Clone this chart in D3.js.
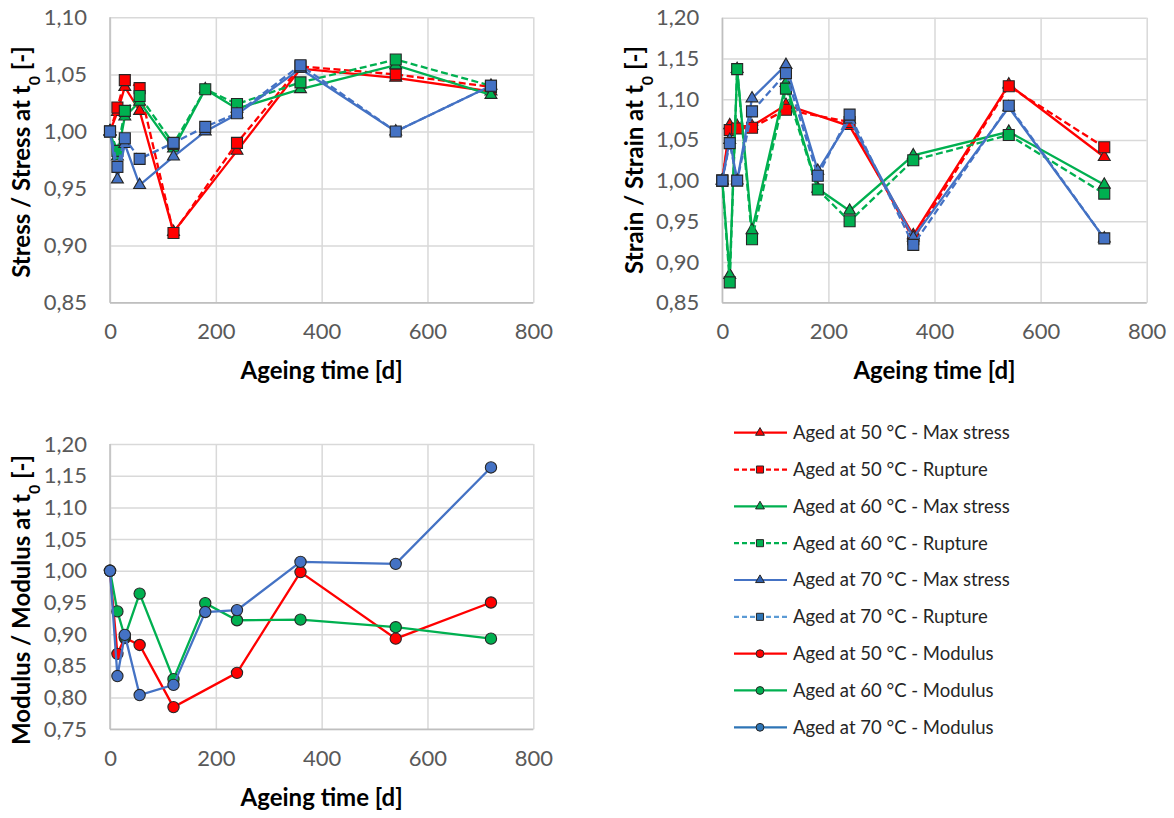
<!DOCTYPE html>
<html>
<head>
<meta charset="utf-8">
<script src="https://cdn.jsdelivr.net/npm/d3@7"></script>
<style>
  body { margin: 0; background: #fff; }
  svg { display: block; font-family: Lato, "Open Sans", sans-serif; }
</style>
</head>
<body>
<svg id="chart" width="1174" height="818"></svg>
<script>
// Ageing time points [d]
var days = [0, 14, 28, 56, 120, 180, 240, 360, 540, 720];
var xTicks = [0, 200, 400, 600, 800];

// Stress / stress at t0 (null = not measured)
var stress50Max = [1.000, 1.017, 1.039, 1.018, 0.912, null, 0.983, 1.055, 1.047, 1.035];
var stress50Rup = [1.000, 1.021, 1.045, 1.038, 0.911, null, 0.990, 1.057, 1.050, 1.039];
var stress60Max = [1.000, 0.978, 1.013, 1.026, 0.985, 1.037, 1.020, 1.037, 1.058, 1.032];
var stress60Rup = [1.000, 0.983, 1.018, 1.031, 0.989, 1.037, 1.024, 1.043, 1.063, 1.040];
var stress70Max = [1.000, 0.958, 0.989, 0.953, 0.978, 1.000, 1.015, 1.055, 1.000, 1.040];
var stress70Rup = [1.000, 0.969, 0.994, 0.976, 0.990, 1.004, 1.016, 1.058, 1.000, 1.040];
var stressTicks = [0.85, 0.90, 0.95, 1.00, 1.05, 1.10];

// Strain / strain at t0
var strain50Max = [1.000, 1.068, 1.067, 1.067, 1.093, null, 1.067, 0.933, 1.118, 1.029];
var strain50Rup = [1.000, 1.062, 1.064, 1.065, 1.087, null, 1.072, 0.928, 1.116, 1.041];
var strain60Max = [1.000, 0.884, 1.137, 0.939, 1.120, 0.990, 0.963, 1.031, 1.060, 0.995];
var strain60Rup = [1.000, 0.875, 1.137, 0.928, 1.113, 0.989, 0.950, 1.025, 1.056, 0.984];
var strain70Max = [1.000, 1.050, 1.000, 1.101, 1.142, 1.012, 1.075, 0.930, 1.090, 0.929];
var strain70Rup = [1.000, 1.046, 1.000, 1.085, 1.132, 1.006, 1.081, 0.921, 1.092, 0.929];
var strainTicks = [0.85, 0.90, 0.95, 1.00, 1.05, 1.10, 1.15, 1.20];

// Modulus / modulus at t0
var modulus50 = [1.000, 0.869, 0.894, 0.883, 0.785, null, 0.839, 0.998, 0.893, 0.950];
var modulus60 = [1.000, 0.936, 0.896, 0.964, 0.829, 0.949, 0.922, 0.923, 0.911, 0.893];
var modulus70 = [1.000, 0.834, 0.899, 0.804, 0.820, 0.935, 0.938, 1.014, 1.011, 1.163];
var modulusTicks = [0.75, 0.80, 0.85, 0.90, 0.95, 1.00, 1.05, 1.10, 1.15, 1.20];

var legendLabels = [
  "Aged at 50 °C - Max stress", "Aged at 50 °C - Rupture",
  "Aged at 60 °C - Max stress", "Aged at 60 °C - Rupture",
  "Aged at 70 °C - Max stress", "Aged at 70 °C - Rupture",
  "Aged at 50 °C - Modulus", "Aged at 60 °C - Modulus", "Aged at 70 °C - Modulus"
];

var red = "#ff0000", green = "#00b050", blue = "#4472c4";
var svg = d3.select("#chart");
var fmt = function(v) { return d3.format(".2f")(v).replace(".", ","); };

function drawPanel(p) {
  var x = d3.scaleLinear().domain([0, 800]).range([p.left, p.right]);
  var y = d3.scaleLinear().domain([p.ticks[0], p.ticks[p.ticks.length - 1]]).range([p.bottom, p.top]);
  var w = p.right - p.left, h = p.bottom - p.top;
  var g = svg.append("g");

  // gridlines + tick labels through the axes
  var ya = g.append("g")
      .attr("transform", "translate(" + p.left + ",0)")
      .call(d3.axisLeft(y).tickValues(p.ticks).tickSize(-w).tickPadding(23).tickFormat(fmt));
  var xa = g.append("g")
      .attr("transform", "translate(0," + p.bottom + ")")
      .call(d3.axisBottom(x).tickValues(xTicks).tickSize(-h).tickPadding(21).tickFormat(d3.format("d")));
  [ya, xa].forEach(function(a) {
    a.select(".domain").remove();
    a.selectAll("line").attr("stroke", "#d9d9d9").attr("stroke-width", 1.5);
    a.selectAll("text").attr("fill", "#595959").style("font-size", "22px").style("font-family", "Lato, sans-serif");
  });
  // axis lines
  g.append("line").attr("x1", p.left).attr("x2", p.left).attr("y1", p.top).attr("y2", p.bottom)
      .attr("stroke", "#bfbfbf").attr("stroke-width", 1.5);
  g.append("line").attr("x1", p.left).attr("x2", p.right).attr("y1", p.bottom).attr("y2", p.bottom)
      .attr("stroke", "#bfbfbf").attr("stroke-width", 1.5);

  // axis titles
  g.append("text")
      .attr("x", (p.left + p.right) / 2).attr("y", p.bottom + 68).attr("dy", "0.35em")
      .attr("text-anchor", "middle").style("font-size", "24px").style("font-weight", "bold")
      .text("Ageing time [d]");
  var yt = g.append("text")
      .attr("transform", "translate(" + (p.left - 88) + "," + p.titleY + ") rotate(-90)")
      .attr("dy", "0.35em").attr("text-anchor", "middle")
      .style("font-size", "24px").style("font-weight", "bold");
  yt.append("tspan").text(p.title);
  yt.append("tspan").attr("baseline-shift", "sub").style("font-size", "16px").text("0");
  yt.append("tspan").text(" [-]");

  var line = d3.line().x(function(d) { return x(d.t); }).y(function(d) { return y(d.v); });

  p.series.forEach(function(s) {
    var pts = days.map(function(t, i) { return { t: t, v: s.values[i] }; })
        .filter(function(d) { return d.v != null; });
    g.append("path").datum(pts)
        .attr("d", line).attr("fill", "none")
        .attr("stroke", s.color).attr("stroke-width", 2.3)
        .attr("stroke-dasharray", s.dash ? "7,3.5" : null);
    g.selectAll(null).data(pts).enter().append("path")
        .attr("transform", function(d) { return "translate(" + x(d.t) + "," + y(d.v) + ")"; })
        .attr("d", d3.symbol().type(s.shape).size(s.size))
        .attr("fill", s.color).attr("stroke", "#262626").attr("stroke-width", 1.1);
  });
}

var sq = d3.symbolSquare, tri = d3.symbolTriangle, circ = d3.symbolCircle;

drawPanel({
  left: 110, right: 533.3, top: 17.3, bottom: 302.7, titleY: 162,
  ticks: stressTicks, title: "Stress / Stress at t",
  series: [
    { values: stress50Max, color: red, dash: false, shape: tri, size: 62 },
    { values: stress50Rup, color: red, dash: true, shape: sq, size: 121 },
    { values: stress60Max, color: green, dash: false, shape: tri, size: 62 },
    { values: stress60Rup, color: green, dash: true, shape: sq, size: 121 },
    { values: stress70Max, color: blue, dash: false, shape: tri, size: 62 },
    { values: stress70Rup, color: blue, dash: true, shape: sq, size: 121 }
  ]
});

drawPanel({
  left: 722.3, right: 1146.7, top: 17.8, bottom: 302.7, titleY: 160,
  ticks: strainTicks, title: "Strain / Strain at t",
  series: [
    { values: strain50Max, color: red, dash: false, shape: tri, size: 62 },
    { values: strain50Rup, color: red, dash: true, shape: sq, size: 121 },
    { values: strain60Max, color: green, dash: false, shape: tri, size: 62 },
    { values: strain60Rup, color: green, dash: true, shape: sq, size: 121 },
    { values: strain70Max, color: blue, dash: false, shape: tri, size: 62 },
    { values: strain70Rup, color: blue, dash: true, shape: sq, size: 121 }
  ]
});

drawPanel({
  left: 110, right: 533.3, top: 444, bottom: 729.3, titleY: 600,
  ticks: modulusTicks, title: "Modulus / Modulus at t",
  series: [
    { values: modulus50, color: red, dash: false, shape: circ, size: 100 },
    { values: modulus60, color: green, dash: false, shape: circ, size: 100 },
    { values: modulus70, color: blue, dash: false, shape: circ, size: 100 }
  ]
});

// legend
var legendStyles = [
  { line: red, mark: red, dash: false, shape: tri, size: 34 },
  { line: red, mark: red, dash: true, shape: sq, size: 50 },
  { line: green, mark: green, dash: false, shape: tri, size: 34 },
  { line: green, mark: green, dash: true, shape: sq, size: 50 },
  { line: blue, mark: "#2f5fae", dash: false, shape: tri, size: 34 },
  { line: "#5b9bd5", mark: "#2e75b6", dash: true, shape: sq, size: 50 },
  { line: red, mark: red, dash: false, shape: circ, size: 48 },
  { line: green, mark: green, dash: false, shape: circ, size: 48 },
  { line: "#2e75b6", mark: "#2e75b6", dash: false, shape: circ, size: 48 }
];
var ly = d3.scalePoint().domain(d3.range(legendLabels.length)).range([432.7, 727.3]);
var leg = svg.append("g").selectAll("g").data(legendLabels).enter().append("g")
    .attr("transform", function(d, i) { return "translate(0," + ly(i) + ")"; });
leg.append("line").attr("x1", 734).attr("x2", 787)
    .attr("stroke", function(d, i) { return legendStyles[i].line; })
    .attr("stroke-width", 2.2)
    .attr("stroke-dasharray", function(d, i) { return legendStyles[i].dash ? "5,3" : null; });
leg.append("path").attr("transform", "translate(760,0)")
    .attr("d", function(d, i) { return d3.symbol().type(legendStyles[i].shape).size(legendStyles[i].size)(); })
    .attr("fill", function(d, i) { return legendStyles[i].mark; })
    .attr("stroke", "#262626").attr("stroke-width", 1);
leg.append("text").attr("x", 793).attr("dy", "0.35em")
    .style("font-size", "18.5px").attr("fill", "#262626")
    .text(function(d) { return d; });
</script>
</body>
</html>
